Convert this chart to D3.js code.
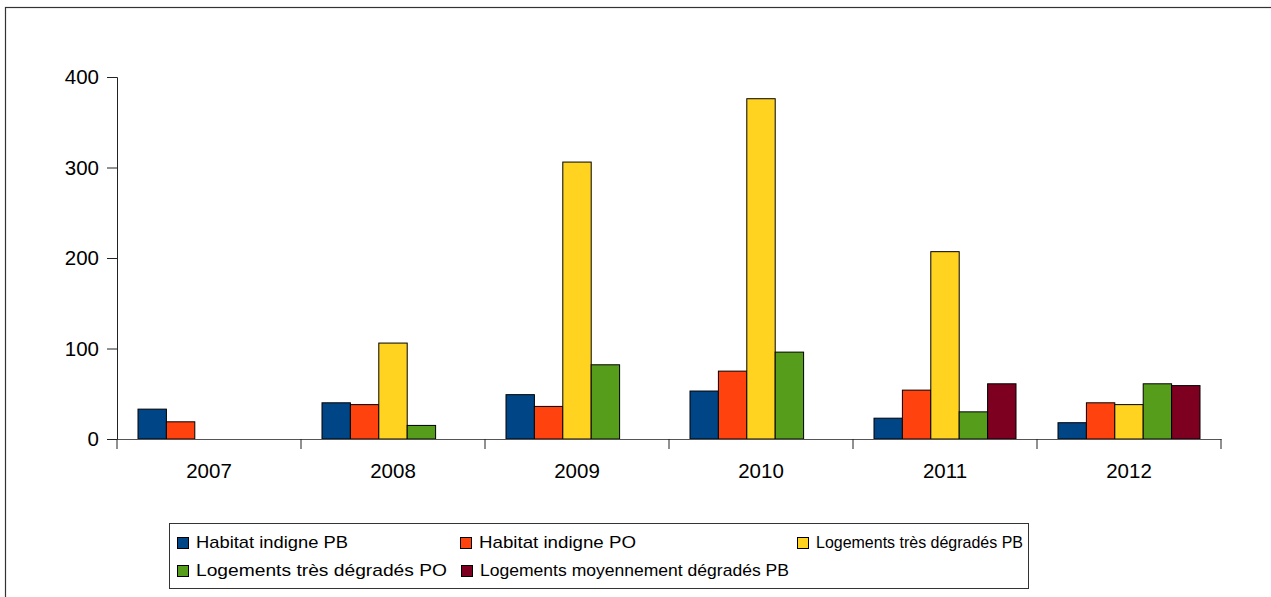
<!DOCTYPE html>
<html>
<head>
<meta charset="utf-8">
<script src="https://cdn.jsdelivr.net/npm/d3@7"></script>
<style>
  body{margin:0;background:#fff;}
  svg{display:block;font-family:"Liberation Sans",Arial,sans-serif;}
</style>
</head>
<body>
<svg id="chart" width="1271" height="597"></svg>
<script>
const years=["2007","2008","2009","2010","2011","2012"];
const seriesNames=["Habitat indigne PB","Habitat indigne PO","Logements très dégradés PB","Logements très dégradés PO","Logements moyennement dégradés PB"];
const seriesColors=["#004586","#ff420e","#ffd320","#579d1c","#7e0021"];
const habitatPB=[33,40,49,53,23,18];
const habitatPO=[19,38,36,75,54,40];
const tresDegradesPB=[null,106,306,376,207,38];
const tresDegradesPO=[null,15,82,96,30,61];
const moyDegradesPB=[null,null,null,null,61,59];
const yTicks=[0,100,200,300,400];

const values=[habitatPB,habitatPO,tresDegradesPB,tresDegradesPO,moyDegradesPB];

const svg=d3.select("#chart");

// outer frame
svg.append("rect")
  .attr("x",5.5).attr("y",7.5)
  .attr("width",1300).attr("height",700)
  .attr("fill","none").attr("stroke","#333").attr("stroke-width",1.2);

const x0=d3.scaleBand().domain(years).range([117,1221]).paddingInner(0).paddingOuter(0);
const x1=d3.scaleBand().domain(d3.range(seriesNames.length)).range([21,163]).padding(0);
const y=d3.scaleLinear().domain([0,400]).range([439,77]);

// bars
const groups=svg.append("g").selectAll("g")
  .data(years)
  .enter()
    .append("g")
    .attr("transform",(d)=>`translate(${x0(d)},0)`);

groups.selectAll("rect")
  .data((d,i)=>values.map((s,k)=>({k:k,v:s[i]})).filter((e)=>e.v!=null))
  .enter()
    .append("rect")
    .attr("x",(e)=>x1(e.k))
    .attr("y",(e)=>y(e.v))
    .attr("width",x1.bandwidth())
    .attr("height",(e)=>y(0)-y(e.v))
    .attr("fill",(e)=>seriesColors[e.k])
    .attr("stroke","#000")
    .attr("stroke-width",1);

// y axis
const yAxis=svg.append("g")
  .attr("transform","translate(117,0)")
  .call(d3.axisLeft(y).tickValues(yTicks).tickSize(10).tickPadding(8));
yAxis.select(".domain").attr("stroke","#222");
yAxis.selectAll(".tick line").attr("stroke","#222");
yAxis.selectAll("text").attr("font-size","20.5px").attr("fill","#000")
  .attr("font-family","Liberation Sans, Arial, sans-serif");

// x axis
const xAxis=svg.append("g")
  .attr("transform","translate(0,439)")
  .call(d3.axisBottom(x0).tickSize(0).tickPadding(24));
xAxis.select(".domain").attr("stroke","#555");
xAxis.selectAll("text").attr("font-size","20.5px").attr("fill","#000")
  .attr("font-family","Liberation Sans, Arial, sans-serif");
xAxis.selectAll(".sep")
  .data(d3.range(years.length+1))
  .enter()
    .append("line")
    .attr("class","sep")
    .attr("x1",(i)=>117+i*x0.step())
    .attr("x2",(i)=>117+i*x0.step())
    .attr("y1",0).attr("y2",10)
    .attr("stroke","#222");

// legend (positions and label widths as laid out in the original)
const legendPos=[[177,537],[460,537],[797,537],[177,565],[461,565]];
const legendWidths=[152,157,207,251,309];
const legend=svg.append("g");
legend.append("rect")
  .attr("x",169.5).attr("y",523.5)
  .attr("width",859).attr("height",65)
  .attr("fill","#fff").attr("stroke","#333").attr("stroke-width",1);
const items=legend.selectAll(".item")
  .data(seriesNames)
  .enter()
    .append("g")
    .attr("class","item")
    .attr("transform",(d,i)=>`translate(${legendPos[i][0]},${legendPos[i][1]})`);
items.append("rect")
  .attr("x",0.5).attr("y",0.5)
  .attr("width",11).attr("height",11)
  .attr("fill",(d,i)=>seriesColors[i])
  .attr("stroke","#000");
items.append("text")
  .attr("x",19).attr("y",11)
  .attr("font-size","17px")
  .attr("fill","#000")
  .attr("textLength",(d,i)=>legendWidths[i])
  .attr("lengthAdjust","spacingAndGlyphs")
  .text((d)=>d);
</script>
</body>
</html>
